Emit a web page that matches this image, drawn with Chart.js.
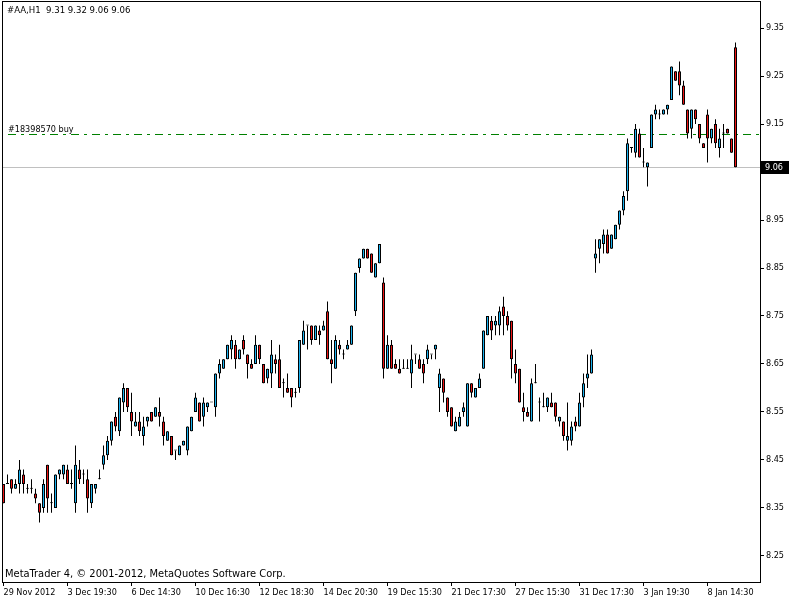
<!DOCTYPE html>
<html>
<head>
<meta charset="utf-8">
<script src="https://cdn.jsdelivr.net/npm/chart.js@4.4.1/dist/chart.umd.min.js"></script>
<style>
  html, body { margin: 0; padding: 0; background: #fff; }
  canvas { display: block; }
</style>
</head>
<body>
<canvas id="chart" width="800" height="600"></canvas>
<script>
// #AA H1 bars (one value per candle, left to right)
const opens = [
  8.40, 8.40, 8.41, 8.39, 8.40, 8.42, 8.39, 8.39, 8.38, 8.36, 8.35, 8.44, 8.36, 8.35, 8.42, 8.42,
  8.43, 8.40, 8.36, 8.43, 8.42, 8.41, 8.36, 8.39, 8.41, 8.44, 8.46, 8.49, 8.54, 8.51, 8.57, 8.60,
  8.55, 8.52, 8.53, 8.50, 8.53, 8.55, 8.54, 8.55, 8.53, 8.49, 8.50, 8.47, 8.46, 8.48, 8.47, 8.51,
  8.55, 8.57, 8.54, 8.56, 8.57, 8.56, 8.63, 8.64, 8.66, 8.68, 8.69, 8.66, 8.70, 8.67, 8.65, 8.65,
  8.69, 8.65, 8.62, 8.63, 8.66, 8.66, 8.61, 8.60, 8.60, 8.59, 8.60, 8.69, 8.73, 8.73, 8.70, 8.72,
  8.72, 8.76, 8.66, 8.64, 8.69, 8.67, 8.68, 8.69, 8.76, 8.85, 8.87, 8.89, 8.88, 8.83, 8.86, 8.82,
  8.64, 8.69, 8.65, 8.64, 8.64, 8.64, 8.63, 8.67, 8.66, 8.65, 8.66, 8.67, 8.68, 8.60, 8.62, 8.58,
  8.56, 8.51, 8.52, 8.55, 8.52, 8.61, 8.58, 8.60, 8.64, 8.71, 8.74, 8.73, 8.73, 8.77, 8.75, 8.74,
  8.65, 8.64, 8.56, 8.55, 8.53, 8.61, 8.57, 8.56, 8.56, 8.57, 8.57, 8.53, 8.53, 8.49, 8.49, 8.53,
  8.52, 8.58, 8.62, 8.63, 8.87, 8.89, 8.90, 8.92, 8.89, 8.91, 8.94, 8.97, 9.01, 9.10, 9.09, 9.13,
  9.07, 9.06, 9.10, 9.17, 9.17, 9.17, 9.18, 9.20, 9.26, 9.26, 9.23, 9.18, 9.14, 9.18, 9.15, 9.11,
  9.17, 9.12, 9.15, 9.10, 9.13, 9.14, 9.12, 9.31
];
const highs = [
  8.40, 8.42, 8.41, 8.41, 8.45, 8.43, 8.40, 8.41, 8.39, 8.36, 8.41, 8.44, 8.38, 8.42, 8.43, 8.44,
  8.44, 8.43, 8.48, 8.45, 8.43, 8.43, 8.40, 8.40, 8.43, 8.48, 8.50, 8.53, 8.55, 8.58, 8.61, 8.60,
  8.59, 8.55, 8.55, 8.54, 8.54, 8.55, 8.56, 8.58, 8.54, 8.51, 8.50, 8.47, 8.48, 8.49, 8.52, 8.54,
  8.59, 8.57, 8.58, 8.57, 8.57, 8.63, 8.66, 8.66, 8.69, 8.71, 8.70, 8.68, 8.71, 8.67, 8.66, 8.71,
  8.69, 8.65, 8.64, 8.70, 8.67, 8.69, 8.62, 8.63, 8.60, 8.60, 8.70, 8.74, 8.73, 8.73, 8.73, 8.73,
  8.74, 8.78, 8.70, 8.71, 8.70, 8.68, 8.70, 8.73, 8.84, 8.87, 8.89, 8.89, 8.88, 8.86, 8.90, 8.83,
  8.71, 8.70, 8.66, 8.66, 8.66, 8.66, 8.69, 8.67, 8.67, 8.66, 8.69, 8.67, 8.69, 8.64, 8.62, 8.58,
  8.56, 8.54, 8.55, 8.57, 8.61, 8.61, 8.60, 8.63, 8.72, 8.75, 8.75, 8.75, 8.77, 8.79, 8.76, 8.74,
  8.68, 8.64, 8.59, 8.56, 8.62, 8.65, 8.58, 8.59, 8.58, 8.59, 8.57, 8.54, 8.53, 8.57, 8.53, 8.54,
  8.59, 8.63, 8.67, 8.68, 8.91, 8.91, 8.93, 8.93, 8.92, 8.94, 8.97, 9.01, 9.12, 9.10, 9.15, 9.14,
  9.10, 9.07, 9.17, 9.19, 9.18, 9.18, 9.19, 9.27, 9.26, 9.28, 9.24, 9.18, 9.18, 9.18, 9.15, 9.11,
  9.18, 9.14, 9.16, 9.14, 9.15, 9.14, 9.12, 9.32
];
const lows = [
  8.36, 8.40, 8.38, 8.39, 8.38, 8.38, 8.38, 8.38, 8.36, 8.32, 8.34, 8.34, 8.34, 8.35, 8.41, 8.41,
  8.40, 8.39, 8.34, 8.40, 8.40, 8.34, 8.35, 8.38, 8.41, 8.43, 8.45, 8.48, 8.51, 8.50, 8.55, 8.55,
  8.50, 8.52, 8.50, 8.48, 8.52, 8.53, 8.54, 8.52, 8.48, 8.49, 8.46, 8.45, 8.46, 8.48, 8.46, 8.51,
  8.55, 8.53, 8.52, 8.55, 8.57, 8.54, 8.62, 8.64, 8.66, 8.66, 8.64, 8.66, 8.67, 8.62, 8.64, 8.65,
  8.65, 8.61, 8.61, 8.60, 8.63, 8.60, 8.58, 8.59, 8.56, 8.58, 8.59, 8.69, 8.68, 8.69, 8.70, 8.69,
  8.72, 8.66, 8.61, 8.64, 8.67, 8.66, 8.68, 8.69, 8.75, 8.84, 8.87, 8.87, 8.84, 8.83, 8.86, 8.62,
  8.64, 8.64, 8.64, 8.63, 8.64, 8.64, 8.60, 8.65, 8.64, 8.61, 8.65, 8.66, 8.66, 8.55, 8.57, 8.54,
  8.52, 8.51, 8.52, 8.54, 8.52, 8.58, 8.58, 8.60, 8.64, 8.71, 8.70, 8.71, 8.71, 8.71, 8.72, 8.62,
  8.61, 8.57, 8.53, 8.54, 8.53, 8.61, 8.53, 8.56, 8.55, 8.56, 8.53, 8.52, 8.49, 8.47, 8.48, 8.51,
  8.52, 8.56, 8.60, 8.63, 8.84, 8.86, 8.88, 8.88, 8.89, 8.91, 8.93, 8.96, 8.99, 9.09, 9.08, 9.08,
  9.06, 9.02, 9.10, 9.16, 9.16, 9.17, 9.17, 9.20, 9.24, 9.21, 9.19, 9.12, 9.12, 9.15, 9.11, 9.10,
  9.07, 9.11, 9.10, 9.08, 9.10, 9.13, 9.09, 9.06
];
const closes = [
  8.36, 8.40, 8.39, 8.40, 8.43, 8.40, 8.39, 8.39, 8.37, 8.34, 8.40, 8.37, 8.36, 8.42, 8.43, 8.44,
  8.40, 8.40, 8.44, 8.41, 8.42, 8.37, 8.40, 8.40, 8.41, 8.46, 8.49, 8.53, 8.52, 8.58, 8.60, 8.56,
  8.53, 8.53, 8.51, 8.52, 8.54, 8.53, 8.56, 8.54, 8.50, 8.51, 8.46, 8.47, 8.48, 8.49, 8.52, 8.54,
  8.58, 8.53, 8.57, 8.57, 8.57, 8.63, 8.65, 8.66, 8.69, 8.70, 8.66, 8.68, 8.68, 8.65, 8.64, 8.69,
  8.66, 8.61, 8.64, 8.67, 8.65, 8.60, 8.61, 8.59, 8.58, 8.59, 8.70, 8.72, 8.73, 8.70, 8.73, 8.71,
  8.73, 8.66, 8.65, 8.70, 8.68, 8.67, 8.69, 8.73, 8.84, 8.87, 8.89, 8.87, 8.84, 8.86, 8.90, 8.64,
  8.69, 8.64, 8.64, 8.63, 8.64, 8.64, 8.66, 8.67, 8.64, 8.63, 8.68, 8.67, 8.69, 8.63, 8.59, 8.55,
  8.52, 8.53, 8.54, 8.56, 8.61, 8.59, 8.60, 8.62, 8.72, 8.75, 8.72, 8.74, 8.76, 8.75, 8.73, 8.66,
  8.63, 8.57, 8.55, 8.54, 8.61, 8.61, 8.57, 8.56, 8.58, 8.56, 8.54, 8.54, 8.50, 8.50, 8.52, 8.52,
  8.57, 8.61, 8.63, 8.67, 8.88, 8.91, 8.92, 8.88, 8.92, 8.94, 8.97, 9.00, 9.11, 9.10, 9.14, 9.08,
  9.07, 9.07, 9.17, 9.18, 9.17, 9.18, 9.19, 9.27, 9.24, 9.23, 9.19, 9.13, 9.18, 9.16, 9.12, 9.10,
  9.12, 9.14, 9.11, 9.12, 9.13, 9.13, 9.09, 9.06
];

// time axis: a label every 16 bars
const xTickIdx = [0, 16, 32, 48, 64, 80, 96, 112, 128, 144, 160, 176];
const xLabels = ['29 Nov 2012', '3 Dec 19:30', '6 Dec 14:30', '10 Dec 16:30', '12 Dec 18:30', '14 Dec 20:30',
                 '19 Dec 15:30', '21 Dec 17:30', '27 Dec 15:30', '31 Dec 17:30', '3 Jan 19:30', '8 Jan 14:30'];
const yTicks = [8.25, 8.35, 8.45, 8.55, 8.65, 8.75, 8.85, 8.95, 9.05, 9.15, 9.25, 9.35];

const symbolInfo = '#AA,H1  9.31 9.32 9.06 9.06';
const orderLabel = '#18398570 buy';
const orderPrice = 9.13;
const copyright = 'MetaTrader 4, \u00a9 2001-2012, MetaQuotes Software Corp.';

const FONT = "'DejaVu Sans Condensed', 'DejaVu Sans', sans-serif";
const BULL = '#19b2f0';
const BEAR = '#ee1414';

const idx = opens.map((_, i) => i);
const lastClose = closes[closes.length - 1];

const wickData = idx.map(i => ({ x: i, y: [lows[i], highs[i]] }));
const bodyData = idx.map(i => ({ x: i, y: [opens[i], closes[i]] }));
const bodyColors = idx.map(i => closes[i] >= opens[i] ? BULL : BEAR);

// no label overflow padding: the plot must fill the frame exactly
function noPad(s) {
  s.paddingTop = 0; s.paddingBottom = 0; s.paddingLeft = 0; s.paddingRight = 0;
}

// frame, bid line, order line and the MT4 captions
const mtPlugin = {
  id: 'mt4',
  beforeDatasetsDraw(chart) {
    const { ctx, chartArea: a, scales: { y } } = chart;
    ctx.save();
    // bid line
    let py = Math.round(y.getPixelForValue(lastClose)) + 0.5;
    ctx.strokeStyle = '#c0c0c0';
    ctx.lineWidth = 1;
    ctx.beginPath(); ctx.moveTo(a.left, py); ctx.lineTo(a.right, py); ctx.stroke();
    // order line
    py = Math.round(y.getPixelForValue(orderPrice)) + 0.5;
    ctx.strokeStyle = '#008000';
    ctx.setLineDash([8, 5, 3, 5]);
    ctx.beginPath(); ctx.moveTo(a.left + 6, py); ctx.lineTo(a.right, py); ctx.stroke();
    ctx.setLineDash([]);
    ctx.fillStyle = '#000';
    ctx.font = '9px ' + FONT;
    ctx.textBaseline = 'alphabetic';
    ctx.fillText(orderLabel, 8, py - 3);
    ctx.restore();
  },
  afterDraw(chart) {
    const { ctx, chartArea: a, scales: { y } } = chart;
    ctx.save();
    ctx.strokeStyle = '#000';
    ctx.lineWidth = 1;
    ctx.strokeRect(2.5, 1.5, a.right - 2, a.bottom - 1);
    ctx.fillStyle = '#000';
    ctx.textBaseline = 'middle';
    ctx.font = '9.5px ' + FONT;
    ctx.fillText(symbolInfo, 7, 11);
    ctx.font = '11px ' + FONT;
    ctx.fillText(copyright, 5, 574);
    // current price tag on the axis
    const py = Math.round(y.getPixelForValue(lastClose));
    ctx.font = '9px ' + FONT;
    ctx.fillRect(a.right + 1, py - 6, 28, 13);
    ctx.fillStyle = '#fff';
    ctx.fillText(lastClose.toFixed(2), a.right + 5, py + 1);
    ctx.restore();
  }
};

new Chart(document.getElementById('chart'), {
  type: 'bar',
  data: {
    datasets: [
      { data: wickData, backgroundColor: '#000', borderWidth: 0, barThickness: 1,
        grouped: false, order: 2, inflateAmount: 0 },
      { data: bodyData, backgroundColor: bodyColors, borderColor: '#000', borderWidth: 1,
        borderSkipped: false, barThickness: 3, minBarLength: 1, grouped: false, order: 1, inflateAmount: 0 }
    ]
  },
  options: {
    responsive: false,
    animation: false,
    devicePixelRatio: 1,
    layout: { padding: { left: 2, top: 2, right: 0, bottom: 0 } },
    plugins: { legend: { display: false }, tooltip: { enabled: false } },
    scales: {
      x: {
        type: 'linear', min: -0.375, max: 189.125, offset: false,
        afterBuildTicks: s => { s.ticks = xTickIdx.map(v => ({ value: v })); },
        afterFit: s => { s.height = 18; noPad(s); },
        grid: { offset: false, drawOnChartArea: false, drawTicks: true, tickLength: 4, color: '#000' },
        border: { display: false },
        ticks: {
          autoSkip: false, maxRotation: 0, minRotation: 0, align: 'start', padding: 1,
          color: '#000', font: { family: FONT, size: 9 },
          callback: (v, k) => xLabels[k]
        }
      },
      y: {
        position: 'right', min: 8.195833, max: 9.404167,
        afterBuildTicks: s => { s.ticks = yTicks.map(v => ({ value: v })); },
        afterFit: s => { s.width = 40; noPad(s); },
        grid: { drawOnChartArea: false, drawTicks: true, tickLength: 4, color: '#000' },
        border: { display: false },
        ticks: { padding: 2, color: '#000', font: { family: FONT, size: 9 }, callback: v => v.toFixed(2) }
      }
    }
  },
  plugins: [mtPlugin]
});
</script>
</body>
</html>
